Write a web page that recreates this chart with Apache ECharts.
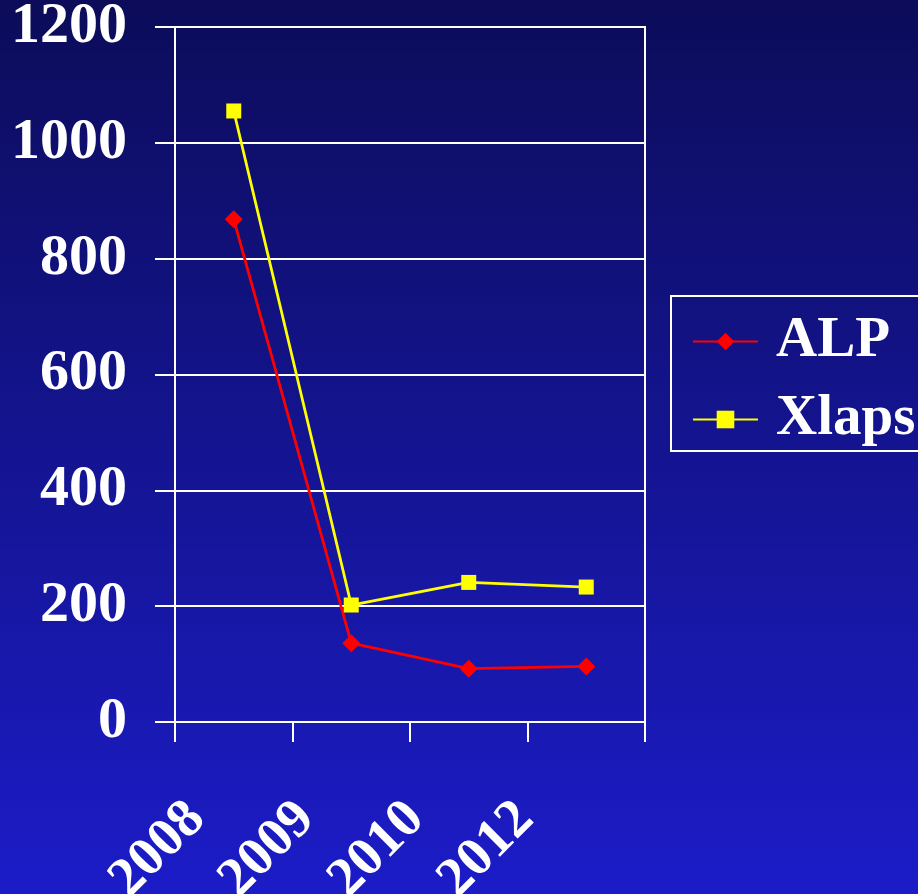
<!DOCTYPE html>
<html>
<head>
<meta charset="utf-8">
<script src="https://cdn.jsdelivr.net/npm/echarts@6/dist/echarts.min.js"></script>
<style>
html,body{margin:0;padding:0;}
#c{width:918px;height:894px;}
</style>
</head>
<body>
<div id="c"></div>
<script>
const categories = ['2008', '2009', '2010', '2012'];
const alpValues = [868, 136, 92, 96];
const xlapsValues = [1055, 202, 241, 233];
const yTicks = [0, 200, 400, 600, 800, 1000, 1200];

const chart = echarts.init(document.getElementById('c'));
const font = 'Liberation Serif, Times New Roman, serif';
const richX = {};
categories.forEach((c, i) => {
  richX['l' + i] = {
    fontFamily: font, fontWeight: 'bold', fontSize: 55, color: '#fff',
    padding: [0, 52 + 5.66 * i, 11.3 * i, 0]
  };
});
chart.setOption({
  animation: false,
  backgroundColor: {
    type: 'linear', x: 0, y: 0, x2: 0, y2: 1,
    colorStops: [{offset: 0, color: '#0c0c5a'}, {offset: 1, color: '#1c1cc8'}]
  },
  grid: {
    left: 175, right: 273, top: 27, bottom: 172,
    outerBoundsMode: 'none', containLabel: false,
    show: true, borderColor: '#ffffff', borderWidth: 2, backgroundColor: 'transparent'
  },
  legend: {
    orient: 'vertical', left: 671, top: 296,
    padding: [17, 30, 3, 21], itemGap: 21,
    borderColor: '#ffffff', borderWidth: 2,
    itemWidth: 65, itemHeight: 22,
    textStyle: {fontFamily: font, fontWeight: 'bold', fontSize: 57, color: '#fff', lineHeight: 56, padding: [0, 0, 0, 13]},
    data: ['ALP', 'Xlaps']
  },
  xAxis: {
    type: 'category', data: categories, boundaryGap: true,
    axisLine: {lineStyle: {color: '#fff', width: 2}},
    axisTick: {show: true, length: 20, lineStyle: {color: '#fff', width: 2}},
    axisLabel: {
      rotate: 45, margin: 52, interval: 0,
      formatter: (v, i) => '{l' + i + '|' + v + '}',
      rich: richX
    }
  },
  yAxis: {
    type: 'value', min: yTicks[0], max: yTicks[yTicks.length - 1], interval: 200,
    axisLine: {show: true, lineStyle: {color: '#fff', width: 2}},
    axisTick: {show: true, length: 20, lineStyle: {color: '#fff', width: 2}},
    splitLine: {show: true, lineStyle: {color: '#fff', width: 2}},
    axisLabel: {margin: 48, fontFamily: font, fontWeight: 'bold', fontSize: 58, color: '#fff',
      formatter: v => String(v)}
  },
  series: [
    {
      name: 'ALP', type: 'line', data: alpValues,
      symbol: 'diamond', symbolSize: 18,
      lineStyle: {color: '#ff0000', width: 2.8},
      itemStyle: {color: '#ff0000'}
    },
    {
      name: 'Xlaps', type: 'line', data: xlapsValues,
      symbol: 'rect', symbolSize: 15,
      lineStyle: {color: '#ffff00', width: 2.8},
      itemStyle: {color: '#ffff00'}
    }
  ]
});
</script>
</body>
</html>
